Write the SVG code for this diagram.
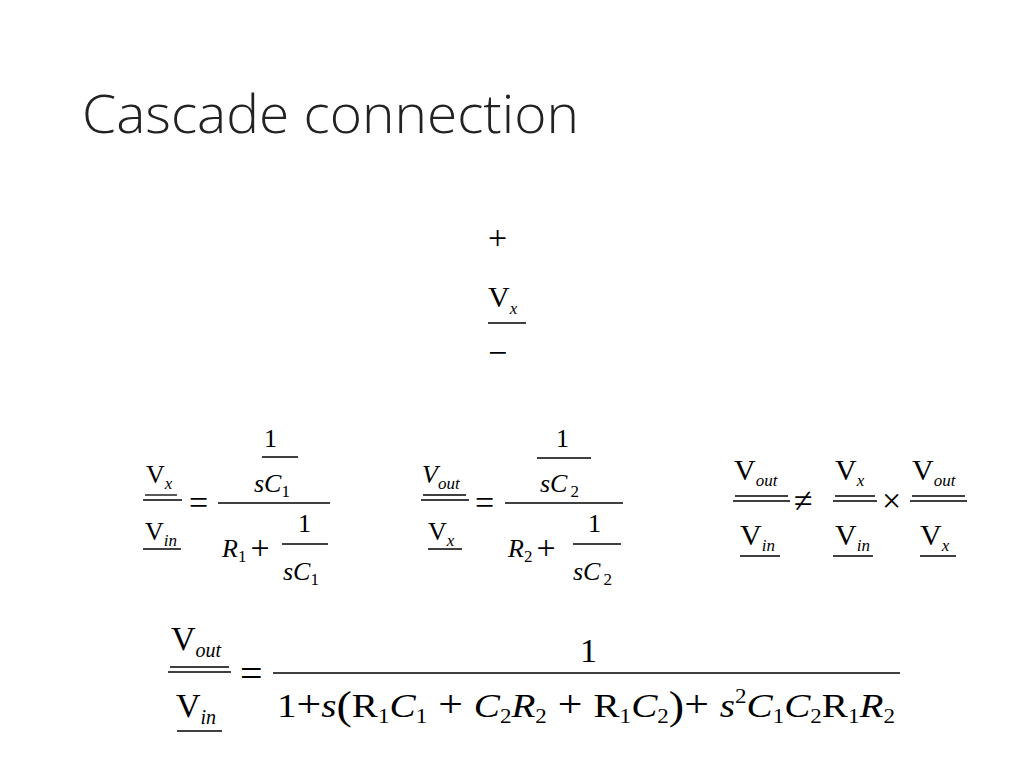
<svg xmlns="http://www.w3.org/2000/svg" width="1024" height="768" viewBox="0 0 1024 768">
<style>
.m{font-family:"Liberation Serif","Times New Roman",serif;fill:#000}
.i{font-style:italic}
.n{font-style:normal}
.s{font-size:17px}
.o{font-size:34px}
line{stroke:#000;stroke-width:1.3}
</style>
<rect width="1024" height="768" fill="#fff"/>
<text x="82" y="133" font-family="'Open Sans','Noto Sans',sans-serif" font-weight="300" font-size="54" textLength="497" lengthAdjust="spacingAndGlyphs" fill="#222">Cascade connection</text>
<g id="vx">
<text class="m o" x="488" y="249">+</text>
<text class="m" x="488" y="307" font-size="30">V<tspan class="i s" dy="7">x</tspan></text>
<line x1="488" y1="323" x2="526" y2="323"/>
<text class="m o" x="488" y="364">−</text>
</g>
<g id="eq1" class="m" font-size="26">
<text x="146" y="483">V<tspan class="i s" dy="6">x</tspan></text>
<line x1="145" y1="495" x2="177" y2="495"/><line x1="143" y1="500" x2="182" y2="500"/>
<text x="145" y="540">V<tspan class="i s" dy="6">in</tspan></text>
<line x1="143" y1="549" x2="181" y2="549"/>
<text x="189" y="514" class="o">=</text>
<line x1="218" y1="503" x2="330" y2="503"/>
<text x="264" y="447">1</text>
<line x1="262" y1="457" x2="298" y2="457"/>
<text x="254" y="492" class="i">sC<tspan class="s n" dy="5">1</tspan></text>
<text x="222" y="557" class="i">R<tspan class="s n" dy="5">1</tspan><tspan class="n o" dx="4" dy="-3">+</tspan></text>
<text x="298" y="532">1</text>
<line x1="282" y1="544" x2="328" y2="544"/>
<text x="283" y="580" class="i">sC<tspan class="s n" dy="5">1</tspan></text>
</g>
<g id="eq2" class="m" font-size="26">
<text x="422" y="483" class="i">V<tspan class="s" dy="6">out</tspan></text>
<line x1="423" y1="495" x2="466" y2="495"/><line x1="421" y1="500" x2="469" y2="500"/>
<text x="428" y="540">V<tspan class="i s" dy="6">x</tspan></text>
<line x1="428" y1="549" x2="462" y2="549"/>
<text x="475" y="514" class="o">=</text>
<line x1="505" y1="503" x2="623" y2="503"/>
<text x="556" y="447">1</text>
<line x1="537" y1="458" x2="591" y2="458"/>
<text x="540" y="492" class="i">sC<tspan class="s n" dx="3" dy="5">2</tspan></text>
<text x="508" y="557" class="i">R<tspan class="s n" dy="5">2</tspan><tspan class="n o" dx="4" dy="-3">+</tspan></text>
<text x="588" y="532">1</text>
<line x1="573" y1="544" x2="621" y2="544"/>
<text x="573" y="580" class="i">sC<tspan class="s n" dx="3" dy="5">2</tspan></text>
</g>
<g id="eq3" class="m" font-size="30">
<text x="734" y="480">V<tspan class="i s" dy="6">out</tspan></text>
<line x1="735" y1="496" x2="788" y2="496"/><line x1="733" y1="501" x2="790" y2="501"/>
<text x="740" y="545">V<tspan class="i s" dy="6">in</tspan></text>
<line x1="740" y1="556" x2="780" y2="556"/>
<text x="794" y="512" class="o">≠</text>
<text x="835" y="480">V<tspan class="i s" dy="6">x</tspan></text>
<line x1="835" y1="496" x2="875" y2="496"/><line x1="833" y1="501" x2="877" y2="501"/>
<text x="835" y="545">V<tspan class="i s" dy="6">in</tspan></text>
<line x1="833" y1="556" x2="873" y2="556"/>
<text x="882" y="512" class="o">×</text>
<text x="912" y="480">V<tspan class="i s" dy="6">out</tspan></text>
<line x1="912" y1="496" x2="965" y2="496"/><line x1="910" y1="501" x2="967" y2="501"/>
<text x="920" y="545">V<tspan class="i s" dy="6">x</tspan></text>
<line x1="920" y1="556" x2="956" y2="556"/>
</g>
<g id="eq4" class="m" font-size="34">
<text x="171" y="650">V<tspan class="i" font-size="20" dy="7">out</tspan></text>
<line x1="170" y1="667" x2="229" y2="667"/><line x1="168" y1="672" x2="231" y2="672"/>
<text x="176" y="717">V<tspan class="i" font-size="20" dy="7">in</tspan></text>
<line x1="177" y1="731" x2="222" y2="731"/>
<text x="240" y="687" font-size="40">=</text>
<line x1="273" y1="673" x2="900" y2="673"/>
<text x="580" y="662">1</text>
<text x="277" y="717" textLength="618" lengthAdjust="spacingAndGlyphs">1<tspan font-size="38">+</tspan><tspan class="i">s</tspan><tspan font-size="40" dy="2">(</tspan><tspan dy="-2">R</tspan><tspan font-size="20" dy="6">1</tspan><tspan class="i" dy="-6">C</tspan><tspan font-size="20" dy="6">1</tspan><tspan font-size="38" dy="-6"> + </tspan><tspan class="i">C</tspan><tspan font-size="20" dy="6">2</tspan><tspan class="i" dy="-6">R</tspan><tspan font-size="20" dy="6">2</tspan><tspan font-size="38" dy="-6"> + </tspan>R<tspan font-size="20" dy="6">1</tspan><tspan class="i" dy="-6">C</tspan><tspan font-size="20" dy="6">2</tspan><tspan font-size="40" dy="-4">)</tspan><tspan font-size="38" dy="-2">+ </tspan><tspan class="i">s</tspan><tspan font-size="20" dy="-14">2</tspan><tspan class="i" dy="14">C</tspan><tspan font-size="20" dy="6">1</tspan><tspan class="i" dy="-6">C</tspan><tspan font-size="20" dy="6">2</tspan><tspan dy="-6">R</tspan><tspan font-size="20" dy="6">1</tspan><tspan class="i" dy="-6">R</tspan><tspan font-size="20" dy="6">2</tspan></text>
</g>
</svg>
